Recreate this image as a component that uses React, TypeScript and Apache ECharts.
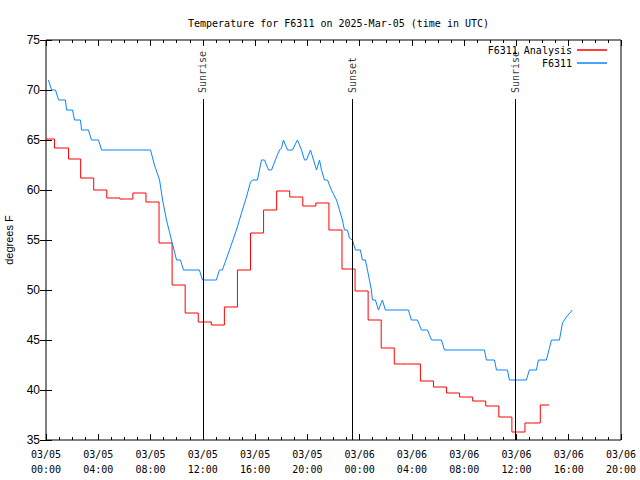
import React, { useEffect, useRef } from 'react';
import * as echarts from 'echarts';

// Observations (hours since 03/05 00:00 UTC, degrees F)
const obsHours = [
  0.19, 0.42, 0.73, 0.96, 1.49, 1.57, 2.03, 2.18, 2.64, 2.72, 3.25, 3.48, 4.02, 4.25,
  8.0, 8.3, 8.69, 8.92, 9.22, 9.6, 9.99, 10.29, 10.52, 11.74, 11.97, 13.04, 13.27, 13.5,
  14.04, 14.57, 15.03, 15.34, 15.65, 15.8, 16.18, 16.49, 16.72, 17.03, 17.26, 17.64, 17.87,
  18.02, 18.17, 18.48, 18.86, 19.24, 19.55, 19.78, 19.93, 20.24, 20.47, 20.7, 20.93, 21.08,
  21.31, 21.54, 21.84, 22.23, 22.46, 22.68, 22.84, 23.07, 23.22, 23.45, 23.68, 24.06, 24.21,
  24.44, 24.6, 24.75, 24.9, 24.98, 25.21, 25.44, 25.74, 25.97, 27.73, 27.96, 28.42, 28.73,
  29.19, 29.5, 30.26, 30.49, 33.55, 33.7, 34.32, 34.47, 35.31, 35.46, 36.76, 36.99, 37.53,
  37.68, 38.29, 38.68, 39.29, 39.52, 39.82, 40.28,
];
const obsTemps = [
  71, 70, 70, 69, 69, 68, 68, 67, 67, 66, 66, 65, 65, 64,
  64, 62.5, 61, 59, 57, 55, 53, 53, 52, 52, 51, 51, 52, 52,
  54, 56, 58, 59.3, 60.8, 61, 61, 63, 63, 62, 62, 63.3, 64,
  64.2, 65, 64, 64, 65, 64, 63, 63, 64, 63, 62, 63, 62,
  61, 61, 60, 59, 58, 57, 56, 56, 55.2, 55, 54, 54, 53,
  53, 52, 51, 50, 49, 49, 48, 49, 48, 48, 47, 47, 46,
  46, 45, 45, 44, 44, 43, 43, 42, 42, 41, 41, 42, 42,
  43, 43, 45, 45, 46.7, 47.3, 48,
];

// Hourly analysis
const anaHours = [
  0, 1.3, 2.15, 3.15, 4.15, 5.15, 6.15, 7.15, 8.15, 9.15, 10.15, 11.15, 12.15, 13.15,
  14.15, 15.15, 16.15, 17.15, 18.15, 19.15, 20.15, 21.15, 22.15, 23.15, 24.15, 25.15,
  26.15, 27.15, 28.15, 29.15, 30.15, 31.15, 32.15, 33.15, 34.15, 35.15, 36.15, 37.15, 38.5,
];
const anaTemps = [
  65.1, 64.2, 63.1, 61.2, 60.0, 59.2, 59.1, 59.7, 58.8, 54.7, 50.5, 47.7, 46.8, 46.5,
  48.3, 52.0, 55.7, 58.0, 59.9, 59.3, 58.4, 58.7, 56.0, 52.1, 49.9, 47.0,
  44.2, 42.6, 42.6, 40.9, 40.3, 39.7, 39.3, 38.9, 38.4, 37.3, 35.8, 36.7, 38.5,
];

const sunHours = [12.0, 23.45, 35.92];
const sunLabels = ['Sunrise', 'Sunset', 'Sunrise'];

const yTicks = [35, 40, 45, 50, 55, 60, 65, 70, 75];

const MONO = 'DejaVu Sans Mono';
const SANS = 'Liberation Sans';

function fmtHour(v: number): string {
  const day = 5 + Math.floor(v / 24);
  const hh = v % 24;
  return `03/0${day}\n${String(hh).padStart(2, '0')}:00`;
}

export default function App() {
  const ref = useRef<HTMLDivElement>(null);
  useEffect(() => {
    const chart = echarts.init(ref.current!, null, { renderer: 'svg' });
    const xBase = {
      type: 'value' as const,
      min: 0,
      max: 44,
      interval: 4,
      splitLine: { show: false },
      axisLine: { show: false },
      axisTick: { show: true, inside: true, length: 6, lineStyle: { color: '#000' } },
      minorTick: { show: true, splitNumber: 4, length: 3, lineStyle: { color: '#000' } },
    };
    const yBase = {
      type: 'value' as const,
      min: yTicks[0],
      max: yTicks[yTicks.length - 1],
      interval: 5,
      splitLine: { show: false },
      axisLine: { show: false },
      axisTick: { show: true, inside: true, length: 6, lineStyle: { color: '#000' } },
    };
    chart.setOption({
      animation: false,
      backgroundColor: '#fff',
      title: {
        text: 'Temperature for F6311 on 2025-Mar-05 (time in UTC)',
        left: 183,
        top: 13,
        textStyle: { fontFamily: MONO, fontSize: 10, fontWeight: 'normal', color: '#000' },
      },
      legend: [
        {
          data: ['F6311 Analysis'],
          orient: 'vertical',
          right: 28,
          top: 40,
          align: 'right',
          icon: 'rect',
          itemWidth: 30,
          itemHeight: 1.5,
          textStyle: { fontFamily: MONO, fontSize: 10, color: '#000' },
        },
        {
          data: ['F6311'],
          orient: 'vertical',
          right: 28,
          top: 53,
          align: 'right',
          icon: 'rect',
          itemWidth: 30,
          itemHeight: 1.5,
          textStyle: { fontFamily: MONO, fontSize: 10, color: '#000' },
        },
      ],
      grid: {
        left: 46,
        right: 19,
        top: 40,
        bottom: 40,
        outerBoundsMode: 'none',
        containLabel: false,
        show: true,
        borderColor: '#000',
        borderWidth: 1,
        backgroundColor: 'transparent',
      },
      xAxis: [
        {
          ...xBase,
          position: 'bottom',
          axisLabel: {
            formatter: fmtHour,
            fontFamily: MONO,
            fontSize: 10,
            lineHeight: 15,
            color: '#000',
            margin: 7,
          },
        },
        { ...xBase, position: 'top', axisLabel: { show: false } },
      ],
      yAxis: [
        {
          ...yBase,
          position: 'left',
          name: 'degrees F',
          nameLocation: 'middle',
          nameGap: 32,
          nameRotate: 90,
          nameTextStyle: { fontFamily: SANS, fontSize: 11, color: '#000' },
          axisLabel: { fontFamily: SANS, fontSize: 12, color: '#000', margin: 6 },
        },
        { ...yBase, position: 'right', axisLabel: { show: false } },
      ],
      series: [
        {
          name: 'F6311 Analysis',
          type: 'line',
          step: 'middle',
          data: anaHours.map((h, i) => [h, anaTemps[i]]),
          showSymbol: false,
          symbol: 'none',
          color: '#ff0000',
          lineStyle: { color: '#ff0000', width: 1 },
          z: 3,
        },
        {
          name: 'F6311',
          type: 'line',
          data: obsHours.map((h, i) => [h, obsTemps[i]]),
          showSymbol: false,
          symbol: 'none',
          color: '#0a84ff',
          lineStyle: { color: '#0a84ff', width: 1 },
          z: 3,
          markLine: {
            silent: true,
            symbol: ['none', 'none'],
            label: { show: false },
            lineStyle: { color: '#000', width: 1, type: 'solid' },
            data: sunHours.map((h) => [{ coord: [h, 69.1] }, { coord: [h, 35] }]),
          },
        },
        {
          name: 'sunlabels',
          type: 'scatter',
          symbolSize: 0,
          data: sunHours.map((h, i) => ({ value: [h, 69.7], name: sunLabels[i] })),
          label: {
            show: true,
            formatter: (p: any) => p.name,
            position: 'inside',
            rotate: 90,
            align: 'left',
            verticalAlign: 'middle',
            fontFamily: MONO,
            fontSize: 10,
            color: '#000',
          },
          silent: true,
          z: 4,
        },
      ],
    });
    return () => chart.dispose();
  }, []);
  return (
    <div
      ref={ref}
      style={{ position: 'absolute', left: 0, top: 0, width: 640, height: 480 }}
    />
  );
}
